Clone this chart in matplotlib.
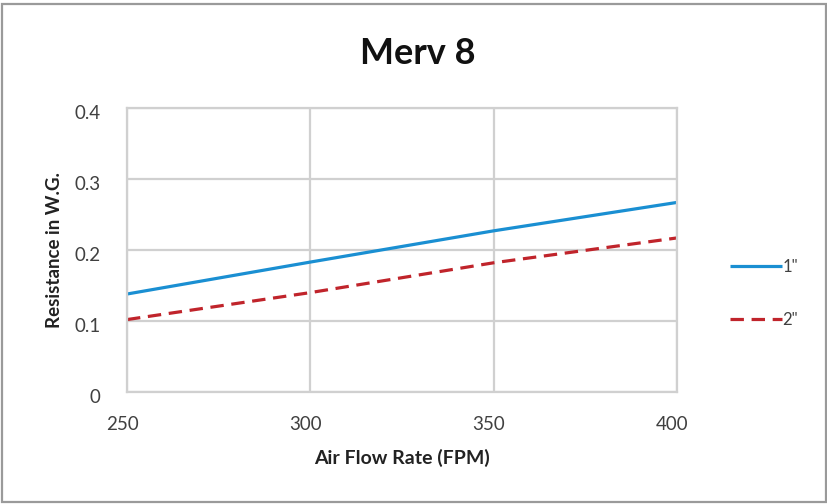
import matplotlib
matplotlib.use("Agg")
import matplotlib.pyplot as plt
from matplotlib.patches import Rectangle
from matplotlib.transforms import ScaledTranslation

flow_rate = [250, 300, 350, 400]
resistance_1in = [0.138, 0.183, 0.227, 0.267]
resistance_2in = [0.102, 0.140, 0.182, 0.217]
series_labels = ['1"', '2"']
y_ticks = [0, 0.1, 0.2, 0.3, 0.4]
y_tick_labels = ["0", "0.1", "0.2", "0.3", "0.4"]
x_ticks = [250, 300, 350, 400]

plt.rcParams['font.family'] = ['Lato', 'DejaVu Sans']

fig = plt.figure(figsize=(8.28, 5.04), dpi=100)
fig.patch.set_facecolor("white")
fig.add_artist(Rectangle((0.002, 0.004), 0.996, 0.988, transform=fig.transFigure,
                         fill=False, edgecolor="#9a9a9a", linewidth=1.6))

ax = fig.add_axes([127/828, 1-392/504, (677-127)/828, (392-108)/504])
grid_c = "#d0d0d0"
ax.plot(flow_rate, resistance_1in, color="#1a8fd2", lw=2.3, label=series_labels[0],
        solid_capstyle="butt")
ax.plot(flow_rate, resistance_2in, color="#c0242b", lw=2.3, label=series_labels[1],
        linestyle=(0, (4.2, 2.4)), dash_capstyle="butt")

ax.set_xlim(250, 400)
ax.set_ylim(0, 0.4)
ax.set_xticks(x_ticks)
ax.set_yticks(y_ticks)
ax.set_yticklabels(y_tick_labels)
ax.grid(True, color=grid_c, lw=1.6)
ax.set_axisbelow(True)
for s in ax.spines.values():
    s.set_color(grid_c)
    s.set_linewidth(1.6)
ax.tick_params(length=0, labelsize=13.5, labelcolor="#404040")
ax.tick_params(axis="x", pad=17)
ax.tick_params(axis="y", pad=19)
shift_x = ScaledTranslation(-5/100, 0, fig.dpi_scale_trans)
for lab in ax.get_xticklabels():
    lab.set_transform(lab.get_transform() + shift_x)
shift_y = ScaledTranslation(0, -4/100, fig.dpi_scale_trans)
for lab in ax.get_yticklabels():
    lab.set_transform(lab.get_transform() + shift_y)

ax.set_xlabel("Air Flow Rate (FPM)", fontsize=14, fontweight="bold", color="#222222", labelpad=12)
ax.set_ylabel("Resistance in W.G.", fontsize=13.5, fontweight="bold", color="#222222", labelpad=8)
fig.text(418/828, 1-54/504, "Merv 8", ha="center", va="center", fontsize=26,
         fontweight="bold", color="#111111")

fig.legend(loc="center left", bbox_to_anchor=(730/828, 1-293.5/504), frameon=False,
           fontsize=12, handlelength=3.1, handletextpad=0.05, labelspacing=2.2,
           borderpad=0, borderaxespad=0, labelcolor="#404040")

fig.savefig("out.png", dpi=100, facecolor="white")
